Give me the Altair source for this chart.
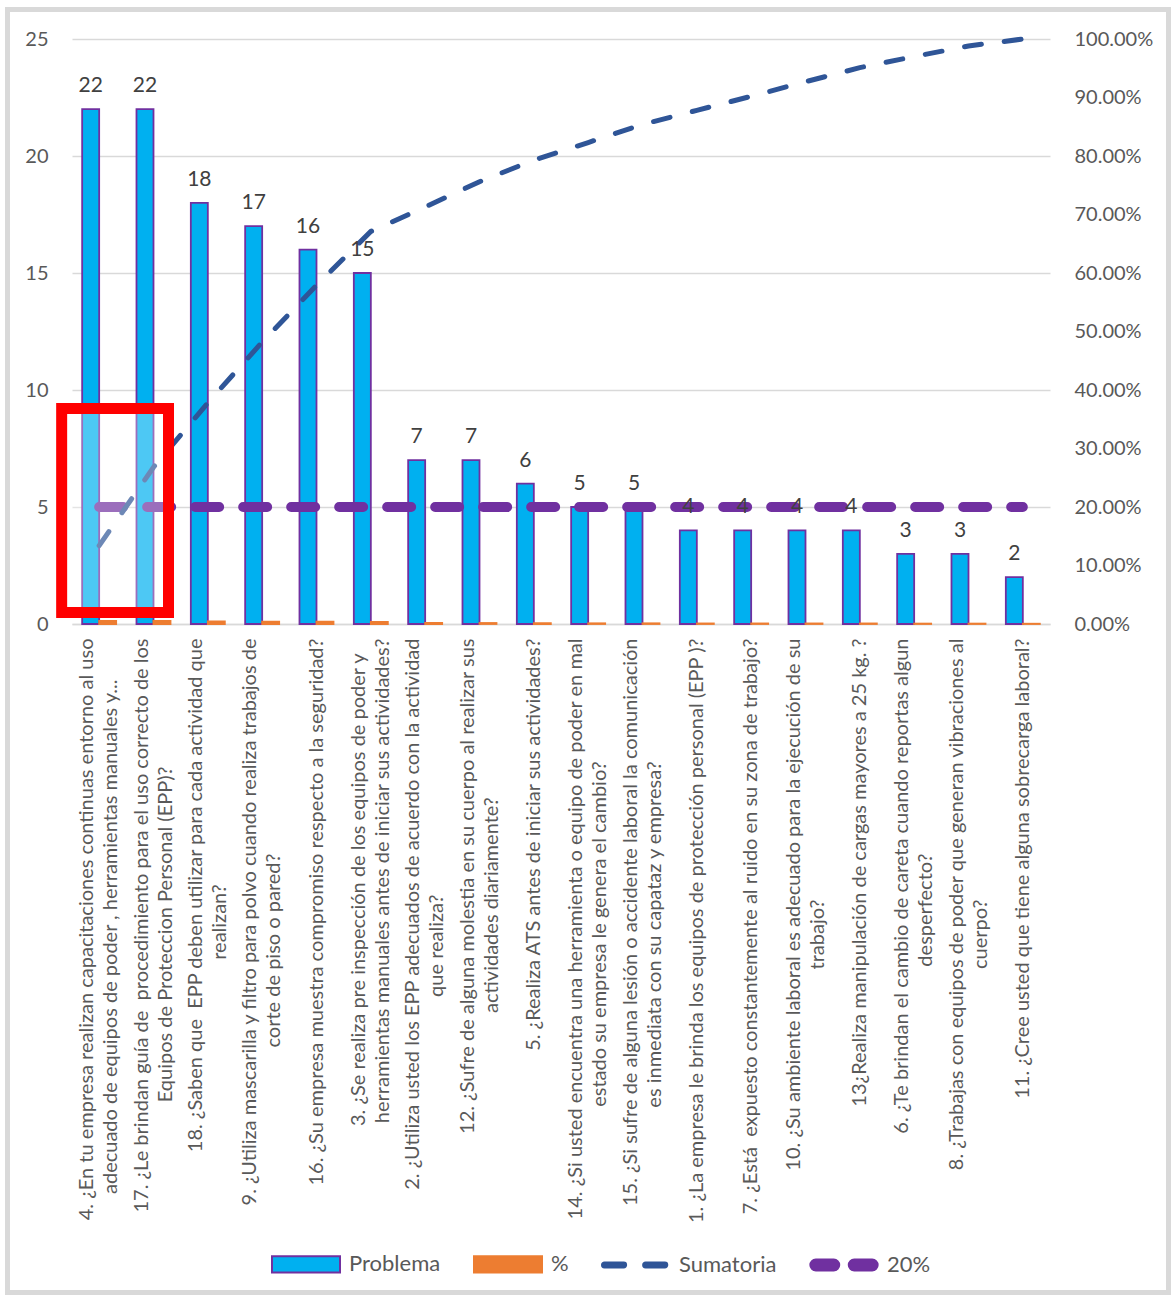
import altair as alt
import pandas as pd

# ---------------- data ----------------
question_lines = [
    ["4. ¿En tu empresa realizan capacitaciones continuas entorno al uso",
     "adecuado de equipos de poder , herramientas manuales y..."],
    ["17. ¿Le brindan guía de \u00a0procedimiento para el uso correcto de los",
     "Equipos de Proteccion Personal (EPP)?"],
    ["18. ¿Saben que \u00a0EPP deben utilizar para cada actividad que",
     "realizan?"],
    ["9. ¿Utiliza mascarilla y filtro para polvo cuando realiza trabajos de",
     "corte de piso o pared?"],
    ["16. ¿Su empresa muestra compromiso respecto a la seguridad?"],
    ["3. ¿Se realiza pre inspección de los equipos de poder y",
     "herramientas manuales antes de iniciar sus actividades?"],
    ["2. ¿Utiliza usted los EPP adecuados de acuerdo con la actividad",
     "que realiza?"],
    ["12. ¿Sufre de alguna molestia en su cuerpo al realizar sus",
     "actividades diariamente?"],
    ["5. ¿Realiza ATS antes de iniciar sus actividades?"],
    ["14. ¿Si usted encuentra una herramienta o equipo de poder en mal",
     "estado su empresa le genera el cambio?"],
    ["15. ¿Si sufre de alguna lesión o accidente laboral la comunicación",
     "es inmediata con su capataz y empresa?"],
    ["1. ¿La empresa le brinda los equipos de protección personal (EPP )?"],
    ["7. ¿Está \u00a0expuesto constantemente al ruido en su zona de trabajo?"],
    ["10. ¿Su ambiente laboral es adecuado para la ejecución de su",
     "trabajo?"],
    ["13¿Realiza manipulación de cargas mayores a 25 kg. ?"],
    ["6. ¿Te brindan el cambio de careta cuando reportas algun",
     "desperfecto?"],
    ["8. ¿Trabajas con equipos de poder que generan vibraciones al",
     "cuerpo?"],
    ["11. ¿Cree usted que tiene alguna sobrecarga laboral?"],
]
problema = [22, 22, 18, 17, 16, 15, 7, 7, 6, 5, 5, 4, 4, 4, 4, 3, 3, 2]
porcentaje = [0.134, 0.134, 0.110, 0.104, 0.098, 0.091, 0.043, 0.043, 0.037,
              0.030, 0.030, 0.024, 0.024, 0.024, 0.024, 0.018, 0.018, 0.012]
sumatoria = [0.134, 0.268, 0.378, 0.482, 0.579, 0.671, 0.713, 0.756, 0.793,
             0.823, 0.854, 0.878, 0.902, 0.927, 0.951, 0.970, 0.988, 1.000]
veinte = [0.20] * 18
series_names = ["Problema", "%", "Sumatoria", "20%"]

# ---------------- label layout helpers ----------------
XFS = 20  # x label font size
NBSP_EM = 0.22


def est_width(s):
    w = 0.0
    for ch in s:
        if ch in " \u00a0":
            w += 0.193
        elif ch in "il.,;:'!|¿j":
            w += 0.24
        elif ch in "frt()?":
            w += 0.34
        elif ch in "mw":
            w += 0.78
        elif ch.isdigit():
            w += 0.58
        elif ch.isupper():
            w += 0.64
        else:
            w += 0.52
    return w


def centered(lines):
    """Pad shorter lines so that each line sits centred under the longest one."""
    if len(lines) == 1:
        return lines
    mx = max(est_width(l) for l in lines)
    out = []
    for l in lines:
        n = int(round((mx - est_width(l)) / 2 / NBSP_EM))
        out.append(l + "\u00a0" * n + "\u2060" if n > 0 else l)
    return out


keys = ["|".join(centered(q)) for q in question_lines]

bars_df = pd.DataFrame(
    [{"q": k, "serie": "Problema", "v": v} for k, v in zip(keys, problema)]
    + [{"q": k, "serie": "%", "v": v} for k, v in zip(keys, porcentaje)]
)
lab_df = pd.DataFrame({"q": keys, "serie": "Problema", "v": problema})
line_df = pd.DataFrame({"q": keys, "sum": sumatoria, "p20": veinte})
box_df = pd.DataFrame({"a": [keys[0]], "b": [keys[1]], "y1": [0.49], "y2": [9.21]})
leg_df = pd.DataFrame({"s": series_names})

FONT = "Lato"
GREY = "#595959"

xscale = alt.Scale(domain=keys, paddingInner=0.374, paddingOuter=0.187)
x_axis = alt.Axis(
    title=None, labelAngle=-90, labelExpr="split(datum.label, '|')",
    labelFont=FONT, labelFontSize=XFS, labelColor=GREY, labelLimit=1000,
    labelOverlap=False, labelLineHeight=24, labelPadding=14, ticks=False,
    labelOffset={"condition": {"test": "indexof(datum.label, '|') >= 0", "value": -12}, "value": 0},
    domain=True, domainColor="#D9D9D9", domainWidth=1.5, grid=False,
)


def X(field="q"):
    return alt.X(f"{field}:N", sort=None, scale=xscale, axis=x_axis)


xoff = alt.XOffset("serie:N", scale=alt.Scale(domain=["Problema", "%"], paddingInner=0, paddingOuter=0))
yleft = alt.Scale(domain=[0, 25], nice=False, zero=True)

bars = alt.Chart(bars_df).mark_bar(strokeWidth=1.8).encode(
    x=X(),
    xOffset=xoff,
    y=alt.Y("v:Q", scale=yleft,
            axis=alt.Axis(title=None, orient="left", values=[0, 5, 10, 15, 20, 25],
                          labelFont=FONT, labelFontSize=20, labelColor=GREY,
                          labelPadding=24, ticks=False, domain=False,
                          grid=True, gridColor="#D9D9D9", gridWidth=1.5)),
    fill=alt.condition("datum.serie == 'Problema'", alt.value("#00B0F0"), alt.value("#ED7D31")),
    stroke=alt.condition("datum.serie == 'Problema'", alt.value("#7030A0"), alt.value("#ED7D31")),
)

yright = alt.Scale(domain=[0, 1], nice=False)
right_axis = alt.Axis(title=None, orient="right", format=".2%",
                      values=[0, 0.1, 0.2, 0.3, 0.4, 0.5, 0.6, 0.7, 0.8, 0.9, 1.0],
                      labelFont=FONT, labelFontSize=20, labelColor=GREY,
                      labelPadding=24, ticks=False, domain=False, grid=False)
p20 = alt.Chart(line_df).mark_line(
    color="#7030A0", strokeWidth=10, strokeDash=[24, 24], strokeCap="round"
).encode(x=X(), y=alt.Y("p20:Q", scale=yright, axis=right_axis, title=None))
cum = alt.Chart(line_df).mark_line(
    color="#2F5597", strokeWidth=5, strokeDash=[17, 23], strokeCap="round"
).encode(x=X(), y=alt.Y("sum:Q", scale=yright, axis=right_axis, title=None))

labels = alt.Chart(lab_df).mark_text(
    font=FONT, fontSize=21, color="#404040", baseline="alphabetic", dy=-17
).encode(
    x=X(), xOffset=xoff,
    y=alt.Y("v:Q", scale=yleft, axis=None),
    text=alt.Text("v:Q"),
)

box = alt.Chart(box_df).mark_rect(
    fill="white", fillOpacity=0.3, stroke="#FF0000", strokeWidth=11,
    xOffset=-20.5, x2Offset=-2,
).encode(
    x=alt.X("a:N", scale=xscale, axis=x_axis, bandPosition=0),
    x2=alt.X2("b", bandPosition=1),
    y=alt.Y("y1:Q", scale=yleft, axis=None),
    y2="y2:Q",
)

rect_path = "M-1,-0.24H1V0.24H-1Z"
dash_path = ("M-0.93,-0.07H-0.36A0.07,0.07 0 0 1 -0.36,0.07H-0.93A0.07,0.07 0 0 1 -0.93,-0.07Z "
             "M0.28,-0.07H0.85A0.07,0.07 0 0 1 0.85,0.07H0.28A0.07,0.07 0 0 1 0.28,-0.07Z")
fat_path = ("M-0.83,-0.16H-0.3A0.16,0.16 0 0 1 -0.3,0.16H-0.83A0.16,0.16 0 0 1 -0.83,-0.16Z "
            "M0.3,-0.16H0.83A0.16,0.16 0 0 1 0.83,0.16H0.3A0.16,0.16 0 0 1 0.3,-0.16Z")

leg_common = dict(title=None, orient="none", legendX=199, legendY=1190, direction="horizontal",
                  labelFont=FONT, labelFontSize=22, labelColor=GREY, symbolSize=4624,
                  labelOffset=8, columnPadding=29, symbolStrokeWidth=2, padding=0)
legend_layer = alt.Chart(leg_df).transform_filter("false").mark_point(
    filled=True, strokeWidth=2, opacity=1
).encode(
    shape=alt.Shape("s:N", scale=alt.Scale(domain=series_names,
                                           range=[rect_path, rect_path, dash_path, fat_path]),
                    legend=alt.Legend(**leg_common)),
    fill=alt.Fill("s:N", scale=alt.Scale(domain=series_names,
                                         range=["#00B0F0", "#ED7D31", "#2F5597", "#7030A0"]),
                  legend=alt.Legend(**leg_common)),
    stroke=alt.Stroke("s:N", scale=alt.Scale(domain=series_names,
                                             range=["#7030A0", "#ED7D31", "#2F5597", "#7030A0"]),
                      legend=alt.Legend(**leg_common)),
)

frame = alt.Chart(pd.DataFrame({"f": [0]})).mark_rect(
    fillOpacity=0, stroke="#D9D9D9", strokeWidth=5
).encode(x=alt.value(-64.5), x2=alt.value(1096.5), y=alt.value(-29.5), y2=alt.value(1253.5))

chart = alt.layer(
    bars,
    alt.layer(p20, cum),
    labels,
    box,
    legend_layer,
    frame,
).resolve_scale(y="independent").properties(
    width=978, height=585,
    padding={"left": 72, "top": 39, "right": 122, "bottom": 673},
    autosize=alt.AutoSizeParams(type="none"),
    background="white",
).configure_view(stroke=None)

chart.save("out.html", embed_options={"renderer": "svg", "actions": False})
